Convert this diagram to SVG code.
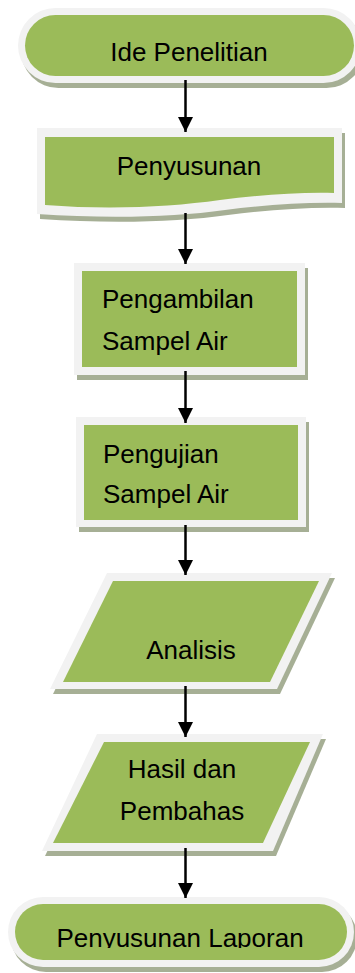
<svg xmlns="http://www.w3.org/2000/svg" width="355" height="973" viewBox="0 0 355 973">
<style>
.sh{fill:#a6af95}
.ol{fill:#f2f2f2}
.gr{fill:#9bbb59}
.t{font-family:"Liberation Sans",Arial,sans-serif;font-size:26px;fill:#000}
.c{text-anchor:middle}
.ln{stroke:#000;stroke-width:2.5;fill:none}
</style>
<defs>
<marker id="ah" markerUnits="userSpaceOnUse" markerWidth="15" markerHeight="15" refX="15" refY="7.5" orient="auto">
<path d="M0,0 L15,7.5 L0,15 Z" fill="#000"/>
</marker>
<clipPath id="clipT2"><rect x="0" y="890" width="355" height="58"/></clipPath>
</defs>
<rect width="355" height="973" fill="#fff"/>
<g id="node-ide">
<rect class="sh" x="21" y="13" width="343" height="75" rx="37.5"/>
<rect class="ol" x="18" y="8" width="343" height="75" rx="37.5"/>
<rect class="gr" x="25" y="15" width="329" height="61" rx="30.5"/>
<text class="t c" x="189" y="61">Ide Penelitian</text>
</g>
<g id="node-penyusunan">
<path class="sh" transform="translate(3,5)" d="M37,128 H342 V203 C305,202 265,205 225,210 C175,217 110,219 37,214 Z"/>
<path class="ol" d="M37,128 H342 V203 C305,202 265,205 225,210 C175,217 110,219 37,214 Z"/>
<path class="gr" d="M45,137 H334 V193 C300,192 260,195 220,200 C170,207 110,210 45,205 Z"/>
<text class="t c" x="189" y="175">Penyusunan</text>
</g>
<g id="node-pengambilan">
<rect class="sh" x="77" y="268" width="231" height="112"/>
<rect class="ol" x="74" y="263" width="231" height="112"/>
<rect class="gr" x="82" y="271" width="215" height="96"/>
<text class="t" x="102" y="308">Pengambilan</text>
<text class="t" x="102" y="350">Sampel Air</text>
</g>
<g id="node-pengujian">
<rect class="sh" x="79" y="422" width="230" height="110"/>
<rect class="ol" x="76" y="417" width="230" height="110"/>
<rect class="gr" x="84" y="425" width="214" height="95"/>
<text class="t" x="103" y="463">Pengujian</text>
<text class="t" x="103" y="503">Sampel Air</text>
</g>
<g id="node-analisis">
<polygon class="sh" points="110,578 335,578 280,694 53,694"/>
<polygon class="ol" points="107,573 332,573 277,689 50,689"/>
<polygon class="gr" points="113,581 319,581 270,682 63,682"/>
<text class="t c" x="191" y="659">Analisis</text>
</g>
<g id="node-hasil">
<polygon class="sh" points="100,739 326,739 276,856 45,856"/>
<polygon class="ol" points="97,734 323,734 273,851 42,851"/>
<polygon class="gr" points="104,742 310,742 263,843 53,843"/>
<text class="t c" x="182" y="778">Hasil dan</text>
<text class="t c" x="182" y="820">Pembahas</text>
</g>
<g id="node-laporan">
<rect class="sh" x="11" y="902" width="346" height="70" rx="35"/>
<rect class="ol" x="8" y="897" width="346" height="70" rx="35"/>
<rect class="gr" x="15" y="904" width="332" height="56" rx="28"/>
<text class="t c" x="180" y="947" clip-path="url(#clipT2)">Penyusunan Laporan</text>
</g>
<g id="connectors">
<line class="ln" x1="185.5" y1="80" x2="185.5" y2="132" marker-end="url(#ah)"/>
<line class="ln" x1="185.5" y1="213" x2="185.5" y2="264" marker-end="url(#ah)"/>
<line class="ln" x1="185.5" y1="371" x2="185.5" y2="423" marker-end="url(#ah)"/>
<line class="ln" x1="185.5" y1="525" x2="185.5" y2="575" marker-end="url(#ah)"/>
<line class="ln" x1="185.5" y1="686" x2="185.5" y2="737" marker-end="url(#ah)"/>
<line class="ln" x1="185.5" y1="848" x2="185.5" y2="898" marker-end="url(#ah)"/>
</g>
</svg>
